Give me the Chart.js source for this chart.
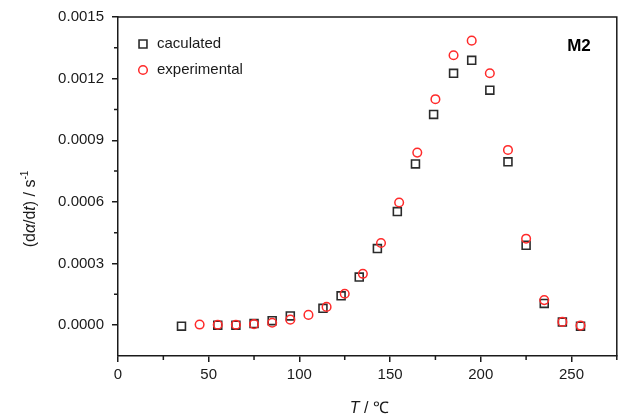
<!DOCTYPE html>
<html>
<head>
<meta charset="utf-8">
<script src="https://cdn.jsdelivr.net/npm/chart.js@4.4.0/dist/chart.umd.min.js"></script>
<style>
  html, body { margin: 0; padding: 0; background: #fff; }
  #wrap { width: 624px; height: 419px; }
</style>
</head>
<body>
<div id="wrap"><canvas id="chart-m2"></canvas></div>
<script>
// data
const calcT = [35, 55, 65, 75, 85, 95, 113, 123, 133, 143, 154, 164, 174, 185, 195, 205, 215, 225, 235, 245, 255];
const calcY = [-0.000005, 0, 0, 0.000008, 0.000022, 0.000045, 0.000082, 0.000143, 0.000234, 0.000373, 0.000553,
  0.000785, 0.001026, 0.001226, 0.001289, 0.001144, 0.000795, 0.000389, 0.000106, 0.000015, -0.000005];
const expT = [45, 55, 65, 75, 85, 95, 105, 115, 125, 135, 145, 155, 165, 175, 185, 195, 205, 215, 225, 235, 245, 255];
const expY = [0.000003, 0.000002, 0.000002, 0.000005, 0.000012, 0.000027, 0.00005, 0.000089, 0.000153, 0.00025, 0.0004,
  0.000597, 0.00084, 0.0011, 0.001314, 0.001385, 0.001226, 0.000853, 0.000421, 0.000122, 0.000016, -0.000002];

const xTicks = [0, 50, 100, 150, 200, 250];
const xMinor = [25, 75, 125, 175, 225, 275];
const yTicks = [0, 0.0003, 0.0006, 0.0009, 0.0012, 0.0015];
const yMinor = [0.00015, 0.00045, 0.00075, 0.00105, 0.00135];

const seriesNames = ['caculated', 'experimental'];
const panelLabel = 'M2';

const FONT = '"Liberation Sans", Arial, sans-serif';
const INK = '#1a1a1a';

const toPoints = (xs, ys) => xs.map((x, i) => ({ x: x, y: ys[i] }));

// frame, minor ticks, legend, panel label, axis titles
const extras = {
  id: 'extras',
  afterDraw(chart) {
    const ctx = chart.ctx;
    const a = chart.chartArea;
    const xs = chart.scales.x, ys = chart.scales.y;
    ctx.save();
    ctx.strokeStyle = INK;
    ctx.lineWidth = 1.5;
    // top and right of the box
    ctx.beginPath();
    ctx.moveTo(a.left, a.top);
    ctx.lineTo(a.right, a.top);
    ctx.lineTo(a.right, a.bottom);
    ctx.stroke();
    // minor ticks
    ctx.beginPath();
    xMinor.forEach(v => {
      const px = xs.getPixelForValue(v);
      ctx.moveTo(px, a.bottom);
      ctx.lineTo(px, a.bottom + 4);
    });
    yMinor.forEach(v => {
      const py = ys.getPixelForValue(v);
      ctx.moveTo(a.left - 4, py);
      ctx.lineTo(a.left, py);
    });
    ctx.stroke();

    // legend inside the plot
    const ds = chart.data.datasets;
    const lx = a.left + 25, ly = a.top + 27, gap = 26;
    ctx.font = '15px ' + FONT;
    ctx.textBaseline = 'middle';
    ctx.textAlign = 'left';
    ds.slice().sort((p, q) => p.legendPos - q.legendPos).forEach((d, k) => {
      const y = ly + k * gap;
      ctx.lineWidth = d.borderWidth;
      ctx.strokeStyle = d.borderColor;
      ctx.fillStyle = 'rgba(0,0,0,0)';
      Chart.helpers.drawPoint(ctx, { pointStyle: d.pointStyle, radius: d.pointRadius, borderWidth: d.borderWidth }, lx, y);
      ctx.fillStyle = INK;
      ctx.fillText(d.label, lx + 14, y);
    });

    // panel label
    ctx.font = 'bold 17px ' + FONT;
    ctx.textAlign = 'right';
    ctx.fillStyle = '#000';
    ctx.fillText(panelLabel, a.right - 26, a.top + 29);

    // x title: T / ℃
    ctx.textBaseline = 'alphabetic';
    const xParts = [['T', 'italic '], [' / \u2103', '']];
    drawParts(ctx, xParts, (a.left + a.right) / 2 + 2, 413, 16);

    // y title: (dα/dt) / s-1, rotated
    ctx.save();
    ctx.translate(35, 209);
    ctx.rotate(-Math.PI / 2);
    const yParts = [['(d', ''], ['\u03b1', 'italic '], ['/d', ''], ['t', 'italic '], [') / s', ''], ['-1', 'sup']];
    drawParts(ctx, yParts, 0, 0, 16);
    ctx.restore();
    ctx.restore();
  }
};

function drawParts(ctx, parts, cx, baseY, size) {
  const fontOf = p => p[1] === 'sup' ? (Math.round(size * 0.65) + 'px ' + FONT) : (p[1] + size + 'px ' + FONT);
  let total = 0;
  parts.forEach(p => { ctx.font = fontOf(p); total += ctx.measureText(p[0]).width; });
  let x = cx - total / 2;
  ctx.fillStyle = INK;
  ctx.textAlign = 'left';
  parts.forEach(p => {
    ctx.font = fontOf(p);
    const dy = p[1] === 'sup' ? -size * 0.45 : 0;
    ctx.fillText(p[0], x, baseY + dy);
    x += ctx.measureText(p[0]).width;
  });
}

const data = {
  datasets: [{
    label: seriesNames[1],
    data: toPoints(expT, expY),
    pointStyle: 'circle',
    pointRadius: 4.3,
    pointHoverRadius: 4.3,
    borderColor: '#ff2a2a',
    backgroundColor: 'rgba(0,0,0,0)',
    borderWidth: 1.5,
    showLine: false,
    order: 0,
    legendPos: 1
  }, {
    label: seriesNames[0],
    data: toPoints(calcT, calcY),
    pointStyle: 'rect',
    pointRadius: 5.6,
    pointHoverRadius: 5.6,
    borderColor: '#2b2b2b',
    backgroundColor: 'rgba(0,0,0,0)',
    borderWidth: 1.6,
    showLine: false,
    order: 1,
    legendPos: 0
  }]
};

const config = {
  type: 'scatter',
  data: data,
  options: {
    responsive: true,
    maintainAspectRatio: false,
    animation: false,
    layout: { padding: { left: 0, top: 15, right: 7, bottom: 0 } },
    plugins: {
      legend: { display: false },
      tooltip: { enabled: false }
    },
    scales: {
      x: {
        type: 'linear',
        min: 0,
        max: 275,
        afterBuildTicks: s => { s.ticks = xTicks.map(v => ({ value: v })); },
        afterFit: s => { s.height = 63; },
        border: { display: true, color: INK, width: 1.5 },
        grid: { drawOnChartArea: false, drawTicks: true, tickLength: 6, color: INK, lineWidth: 1.5 },
        ticks: { color: INK, font: { family: FONT, size: 15 }, padding: 4, maxRotation: 0 }
      },
      y: {
        type: 'linear',
        min: -0.00015,
        max: 0.0015,
        afterBuildTicks: s => { s.ticks = yTicks.map(v => ({ value: v })); },
        afterFit: s => { s.width = 118; },
        border: { display: true, color: INK, width: 1.5 },
        grid: { drawOnChartArea: false, drawTicks: true, tickLength: 6, color: INK, lineWidth: 1.5 },
        ticks: {
          color: INK,
          font: { family: FONT, size: 15 },
          padding: 8,
          callback: v => Number(v).toFixed(4)
        }
      }
    }
  },
  plugins: [extras]
};

const myChart = new Chart(document.getElementById('chart-m2'), config);
</script>
</body>
</html>
